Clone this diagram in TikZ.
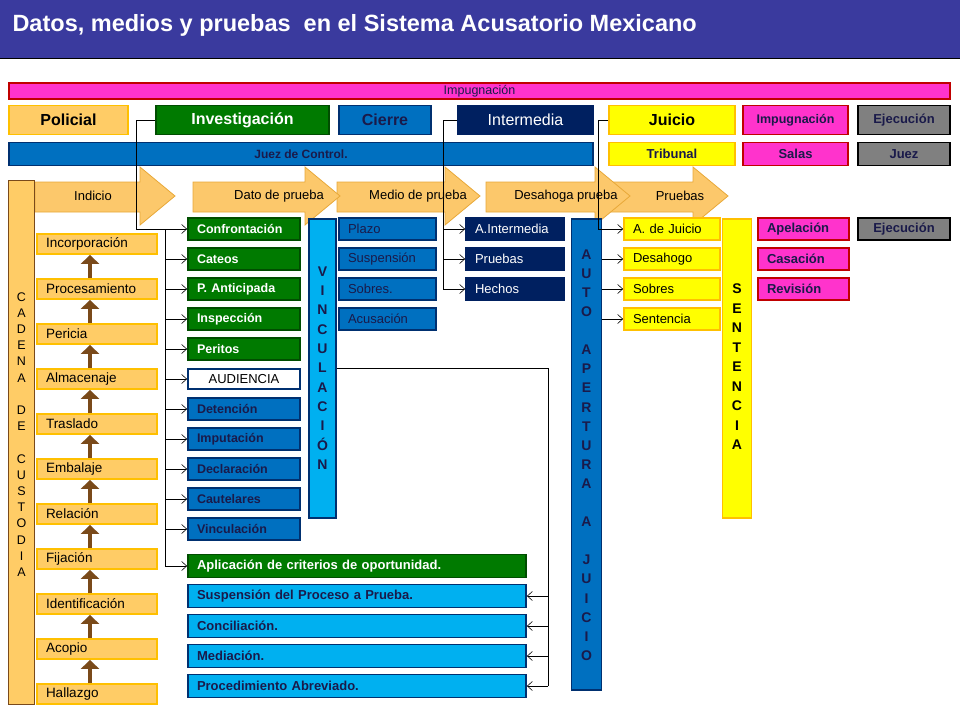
\documentclass[tikz,border=0pt]{standalone}
\usepackage{fontspec}
\setmainfont{Liberation Sans}
\usetikzlibrary{arrows.meta}
\definecolor{titlebg}{HTML}{3A3A9E}
\definecolor{orng}{HTML}{FFCC66}
\definecolor{orngline}{HTML}{FFC000}
\definecolor{arrowfill}{HTML}{FCC86B}
\definecolor{arrowline}{HTML}{E8A838}
\definecolor{grn}{HTML}{007A00}
\definecolor{grnline}{HTML}{004D00}
\definecolor{blu}{HTML}{0070C0}
\definecolor{bluline}{HTML}{003070}
\definecolor{lblu}{HTML}{00B0F0}
\definecolor{navy}{HTML}{002060}
\definecolor{ylw}{HTML}{FFFF00}
\definecolor{mag}{HTML}{FF33CC}
\definecolor{magline}{HTML}{C00000}
\definecolor{gry}{HTML}{808080}
\definecolor{brwn}{HTML}{7A4A1A}
\definecolor{darktext}{HTML}{1A1A4A}
\begin{document}
\begin{tikzpicture}[x=1pt, y=-1pt,
        box/.style={rectangle, draw, line width=1.8pt, inner sep=0pt, inner xsep=9pt, align=left, font=\fontsize{13}{15}\selectfont},
        cbox/.style={rectangle, draw, line width=1.8pt, inner sep=0pt, align=center},
        chain/.style={box, fill=orng, draw=orngline, text width=102pt, minimum height=20pt, font=\fontsize{13.5}{15}\selectfont},
        gbox/.style={box, fill=grn, draw=grnline, text=white, text width=94pt, minimum height=22pt, font=\bfseries\fontsize{12.5}{14}\selectfont},
        bbox/.style={box, fill=blu, draw=bluline, text=darktext, text width=94pt, minimum height=22pt, font=\bfseries\fontsize{12.5}{14}\selectfont},
        pbox/.style={box, fill=blu, draw=bluline, text=darktext, text width=79pt, minimum height=22pt},
        nbox/.style={box, fill=navy, draw=navy, text=white, text width=80pt, minimum height=22pt},
        ybox/.style={box, fill=ylw, draw=orngline, text=black, text width=78pt, minimum height=22pt},
        mbox/.style={box, fill=mag, draw=magline, text=darktext, text width=73pt, minimum height=22pt, font=\bfseries\fontsize{13}{15}\selectfont},
        wbox/.style={box, text width=320pt, minimum height=23pt, font=\bfseries\fontsize{13}{15}\selectfont},
        vbar/.style={cbox, minimum width=27pt},
        conn/.style={draw, line width=0.6pt, -{Straight Barb[length=5pt,width=9pt]}},
        upar/.style={draw=brwn, line width=4.5pt, -{Triangle[length=9pt,width=18pt]}},
        chainarr/.style={fill=arrowfill, draw=arrowline, line width=0.8pt}
    ]
    \useasboundingbox (0,0) rectangle (960,720);
    % Title
    \fill[titlebg] (0,0) rectangle (960,58);
    \draw[line width=0.8pt] (0,58) -- (960,58);
    \node[anchor=west, text=white, font=\bfseries\fontsize{23.5}{27}\selectfont] (title) at (9,25) {Datos, medios y pruebas \ en el Sistema Acusatorio Mexicano};

    % Top rows
    \node[cbox, fill=mag, draw=magline, minimum width=941pt, minimum height=16pt, font=\fontsize{12.5}{13}\selectfont, text=darktext] (impbar) at (479.5,91) {Impugnación};
    \node[cbox, fill=orng, draw=orngline, minimum width=119pt, minimum height=29pt, font=\bfseries\fontsize{16}{18}\selectfont] (policial) at (68.5,120) {Policial};
    \node[cbox, fill=grn, draw=grnline, minimum width=173pt, minimum height=29pt, text=white, font=\bfseries\fontsize{16}{18}\selectfont] (inv) at (242.5,120) {Investigación};
    \node[cbox, fill=blu, draw=bluline, minimum width=92pt, minimum height=29pt, text=darktext, font=\bfseries\fontsize{16}{18}\selectfont] (cierre) at (385,120) {Cierre};
    \node[cbox, fill=navy, draw=navy, minimum width=135pt, minimum height=29pt, text=white, font=\fontsize{16}{18}\selectfont] (interm) at (525.5,120) {Intermedia};
    \node[cbox, fill=ylw, draw=orngline, minimum width=126pt, minimum height=29pt, font=\bfseries\fontsize{16}{18}\selectfont] (juicio) at (672,120) {Juicio};
    \node[cbox, fill=mag, draw=magline, minimum width=105pt, minimum height=29pt, text=darktext, font=\bfseries\fontsize{12.5}{14}\selectfont] (impug) at (795.5,120) {Impugnación};
    \node[cbox, fill=gry, draw=black, minimum width=92pt, minimum height=29pt, text=darktext, font=\bfseries\fontsize{13}{15}\selectfont] (ejec) at (904,120) {Ejecución};

    \node[cbox, fill=blu, draw=bluline, minimum width=584pt, minimum height=23pt, text=darktext, font=\bfseries\fontsize{12}{13}\selectfont] (juez) at (301,154) {Juez de Control.};
    \node[cbox, fill=ylw, draw=orngline, minimum width=126pt, minimum height=23pt, text=darktext, font=\bfseries\fontsize{13}{15}\selectfont] (tribunal) at (672,154) {Tribunal};
    \node[cbox, fill=mag, draw=magline, minimum width=105pt, minimum height=23pt, text=darktext, font=\bfseries\fontsize{13}{15}\selectfont] (salas) at (795.5,154) {Salas};
    \node[cbox, fill=gry, draw=black, minimum width=92pt, minimum height=23pt, text=darktext, font=\bfseries\fontsize{13}{15}\selectfont] (juez2) at (904,154) {Juez};

    % Chain of arrows (drawn right to left)
    \foreach \xa/\xt/\xl/\name/\txt in {595/728/680/pruebas/Pruebas, 486/630/566/desah/Desahoga prueba, 337/480/418/medio/Medio de prueba, 193/340/279/dato/Dato de prueba, 35/175/93/indicio/Indicio}{
        \draw[chainarr] (\xa,182) -- (\xt-35,182) -- (\xt-35,167) -- (\xt,196) -- (\xt-35,225) -- (\xt-35,212) -- (\xa,212) -- cycle;
        \node[font=\fontsize{13}{15}\selectfont] (\name) at (\xl,196) {\txt};
    }

    % Cadena de custodia
    \node[cbox, fill=orng, draw=brwn, minimum width=26pt, minimum height=524pt] (cadbar) at (21.5,442.5) {};
    \node[align=center, font=\fontsize{12.5}{16.2}\selectfont] (cadtxt) at (21.5,434.5) {C\\A\\D\\E\\N\\A\\~\\D\\E\\~\\C\\U\\S\\T\\O\\D\\I\\A};
    \foreach \name/\txt/\y in {incorp/Incorporación/244, proc/Procesamiento/289, peric/Pericia/334, almac/Almacenaje/379, trasl/Traslado/424, embal/Embalaje/469, relac/Relación/514, fijac/Fijación/559, ident/Identificación/604, acop/Acopio/649, hallaz/Hallazgo/694}
        \node[chain] (\name) at (97,\y) {\txt};
    \foreach \lo/\hi in {proc/incorp, peric/proc, almac/peric, trasl/almac, embal/trasl, relac/embal, fijac/relac, ident/fijac, acop/ident, hallaz/acop}
        \draw[upar] ([xshift=-7pt]\lo.north) -- ([xshift=-7pt]\hi.south);

    % Investigacion column
    \node[gbox] (confr) at (244,229) {Confrontación};
    \node[gbox] (cateos) at (244,259) {Cateos};
    \node[gbox] (panti) at (244,289) {P. Anticipada};
    \node[gbox] (insp) at (244,319) {Inspección};
    \node[gbox] (perit) at (244,349) {Peritos};
    \node[box, fill=white, draw=bluline, text width=94pt, minimum height=20pt, align=center] (aud) at (244,379) {AUDIENCIA};
    \node[bbox] (deten) at (244,409) {Detención};
    \node[bbox] (imput) at (244,439) {Imputación};
    \node[bbox] (decla) at (244,469) {Declaración};
    \node[bbox] (caut) at (244,499) {Cautelares};
    \node[bbox] (vincb) at (244,529) {Vinculación};
    \node[wbox, fill=grn, draw=grnline, text=white] (aplic) at (357,566) {Aplicación de criterios de oportunidad.};
    \node[wbox, fill=lblu, draw=bluline, text=darktext] (susp) at (357,596) {Suspensión del Proceso a Prueba.};
    \node[wbox, fill=lblu, draw=bluline, text=darktext] (conc) at (357,626) {Conciliación.};
    \node[wbox, fill=lblu, draw=bluline, text=darktext] (medi) at (357,656) {Mediación.};
    \node[wbox, fill=lblu, draw=bluline, text=darktext] (abrev) at (357,686) {Procedimiento Abreviado.};

    % Vinculacion
    \node[vbar, fill=lblu, draw=bluline, minimum height=299pt] (vinc) at (322.5,368.5) {};
    \node[align=center, font=\bfseries\fontsize{14}{19.3}\selectfont, text=darktext] (vinctxt) at (322.5,368) {V\\I\\N\\C\\U\\L\\A\\C\\I\\Ó\\N};
    \node[pbox] (plazo) at (387.5,229) {Plazo};
    \node[pbox] (suspb) at (387.5,259) {Suspensión};
    \node[pbox] (sobres) at (387.5,289) {Sobres.};
    \node[pbox] (acus) at (387.5,319) {Acusación};

    % Intermedia
    \node[nbox] (aint) at (515,229) {A.Intermedia};
    \node[nbox] (prueb) at (515,259) {Pruebas};
    \node[nbox] (hech) at (515,289) {Hechos};
    \node[vbar, fill=blu, draw=bluline, minimum width=30pt, minimum height=471pt] (auto) at (586.5,454.5) {};
    \node[align=center, font=\bfseries\fontsize{14}{19.1}\selectfont, text=darktext] (autotxt) at (586.5,455) {A\\U\\T\\O\\~\\A\\P\\E\\R\\T\\U\\R\\A\\~\\A\\~\\J\\U\\I\\C\\I\\O};

    % Juicio
    \node[ybox] (ajuic) at (672,229) {A. de Juicio};
    \node[ybox] (desa) at (672,259) {Desahogo};
    \node[ybox] (sobj) at (672,289) {Sobres};
    \node[ybox] (sent) at (672,319) {Sentencia};
    \node[vbar, fill=ylw, draw=orngline, minimum width=29pt, minimum height=299pt] (sentbar) at (737,368.5) {};
    \node[align=center, font=\bfseries\fontsize{14}{19.5}\selectfont] (senttxt) at (737,367) {S\\E\\N\\T\\E\\N\\C\\I\\A};
    \node[mbox] (apel) at (803.5,229) {Apelación};
    \node[mbox] (casac) at (803.5,259) {Casación};
    \node[mbox] (revis) at (803.5,289) {Revisión};
    \node[cbox, fill=gry, draw=black, minimum width=92pt, minimum height=22pt, text=darktext, font=\bfseries\fontsize{13}{15}\selectfont] (ejec2) at (904,229) {Ejecución};

    % Connectors
    \coordinate (invk) at (136,120);
    \draw[conn] (inv.west) -- (invk) |- (confr.west);
    \coordinate (bus) at (165,229);
    \draw[line width=0.6pt] (bus) -- (bus |- aplic.west);
    \foreach \b in {cateos, panti, insp, perit, aud, deten, imput, decla, caut, vincb, aplic}
        \draw[conn] (bus |- \b.west) -- (\b.west);
    \coordinate (intk) at (443,120);
    \draw[conn] (interm.west) -- (intk) |- (aint.west);
    \foreach \b in {prueb, hech}
        \draw[conn] (intk |- \b.west) -- (\b.west);
    \draw[line width=0.6pt] (intk |- aint.west) -- (intk |- hech.west);
    \coordinate (juik) at (598,120);
    \draw[conn] (juicio.west) -- (juik) |- (ajuic.west);
    \foreach \b in {desa, sobj, sent}
        \draw[conn] (auto.east |- \b.west) -- (\b.west);
    \coordinate (vk) at (548,368);
    \draw[line width=0.6pt] (vinc.east |- vk) -- (vk) -- (vk |- abrev.east);
    \foreach \b in {susp, conc, medi, abrev}
        \draw[conn] (vk |- \b.east) -- (\b.east);
\end{tikzpicture}
\end{document}
